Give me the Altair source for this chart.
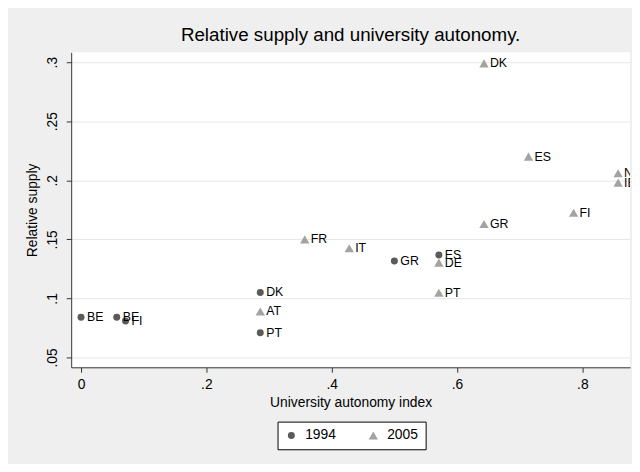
import altair as alt
import pandas as pd

# 1994
c94 = ["BE", "BE", "FI", "DK", "PT", "GR", "ES"]
x94 = [0.0, 0.057, 0.071, 0.286, 0.286, 0.5, 0.571]
y94 = [0.084, 0.084, 0.081, 0.105, 0.071, 0.1317, 0.1367]
# 2005
c05 = ["AT", "FR", "IT", "DE", "PT", "DK", "ES", "GR", "FI", "NL", "IE"]
x05 = [0.286, 0.357, 0.428, 0.571, 0.571, 0.643, 0.714, 0.643, 0.786, 0.857, 0.857]
y05 = [0.089, 0.150, 0.1425, 0.1303, 0.1048, 0.299, 0.220, 0.163, 0.1725, 0.206, 0.198]

rows = []
for c, x, y in zip(c94, x94, y94):
    rows.append({"country": c, "autonomy": x, "supply": y, "year": "1994"})
for c, x, y in zip(c05, x05, y05):
    rows.append({"country": c, "autonomy": x, "supply": y, "year": "2005"})
df = pd.DataFrame(rows)

FONT = "Liberation Sans"
lab = "datum.value == 0 ? '0' : substring(format(datum.value, '.2~f'), 1)"

xenc = alt.X("autonomy:Q",
             scale=alt.Scale(domain=[-0.0157, 0.876], nice=False, zero=False),
             axis=alt.Axis(values=[0, 0.2, 0.4, 0.6, 0.8], labelExpr=lab, grid=False,
                           title="University autonomy index", labelFontSize=14,
                           titleFontSize=14, titleFontWeight="normal", labelPadding=5,
                           titlePadding=5, tickSize=5))
yenc = alt.Y("supply:Q",
             scale=alt.Scale(domain=[0.0417, 0.3083], nice=False, zero=False),
             axis=alt.Axis(values=[0.05, 0.1, 0.15, 0.2, 0.25, 0.3], labelExpr=lab, grid=True,
                           gridColor="#e6e6e6", title="Relative supply", labelFontSize=14,
                           labelAngle=270, labelAlign="center", labelBaseline="bottom",
                           labelPadding=7, titleFontSize=14, titleFontWeight="normal",
                           titlePadding=6, tickSize=5))

leg = alt.Legend(title=None, orient="none", legendX=209, legendY=374,
                 direction="horizontal", strokeColor="black", fillColor="white",
                 padding=7, labelFontSize=14, symbolSize=70, columnPadding=30,
                 labelOffset=7, cornerRadius=0)

pts = alt.Chart(df).mark_point(filled=True, opacity=1).encode(
    x=xenc, y=yenc,
    color=alt.Color("year:N", scale=alt.Scale(domain=["1994", "2005"], range=["#5a5a5a", "#a3a3a3"]),
                    legend=leg),
    shape=alt.Shape("year:N", scale=alt.Scale(domain=["1994", "2005"], range=["circle", "triangle-up"]),
                    legend=leg),
    size=alt.Size("year:N", scale=alt.Scale(domain=["1994", "2005"], range=[50, 90]), legend=None),
)

txt = alt.Chart(df).mark_text(align="left", baseline="middle", dx=6, fontSize=12.5,
                              color="black", clip=True).encode(
    x="autonomy:Q", y="supply:Q", text="country:N")

chart = (pts + txt).properties(
    width=566, height=319,
    title=alt.TitleParams("Relative supply and university autonomy.", fontSize=19,
                          fontWeight="normal", color="black", offset=8, anchor="middle"),
    background="#efefef",
    padding={"left": 64, "top": 42, "right": 2, "bottom": 95},
    autosize=alt.AutoSizeParams(type="none"),
).configure(font=FONT).configure_view(fill="white", stroke=None).configure_axis(
    domainColor="#333333", tickColor="#333333", labelColor="black", titleColor="black",
    labelFont=FONT, titleFont=FONT
).configure_legend(labelFont=FONT, labelColor="black")

chart.save("out.html", embed_options={"renderer": "svg", "actions": False})
